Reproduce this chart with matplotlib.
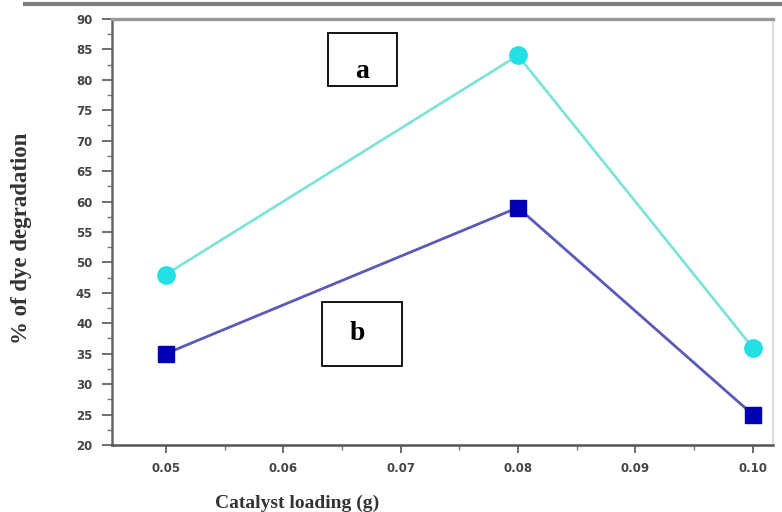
import matplotlib
matplotlib.use("Agg")
import matplotlib.pyplot as plt
from matplotlib.patches import Rectangle
from matplotlib.ticker import MultipleLocator

# catalyst loading (g) and % dye degradation for the two samples
loading = [0.05, 0.08, 0.10]
series_a = [48, 84, 36]
series_b = [35, 59, 25]
xtick_labels = ["0.05", "0.06", "0.07", "0.08", "0.09", "0.10"]

W, H = 782, 512
fig = plt.figure(figsize=(W / 100, H / 100), dpi=100)
ax = fig.add_axes([0.143, 0.131, 0.845, 0.832])

ax.plot(loading, series_a, color="#7fe3da", lw=2, marker="o", ms=12.5,
        mfc="#22e0e4", mec="#22e0e4", zorder=3)
ax.plot(loading, series_b, color="#5a5ab8", lw=2, marker="s", ms=11.5,
        mfc="#0000b4", mec="#0000b4", zorder=3)

ax.set_xlim(0.0454, 0.1017)
ax.set_ylim(20, 90)
ax.set_xticks([0.05, 0.06, 0.07, 0.08, 0.09, 0.10])
ax.set_xticklabels(xtick_labels)
ax.xaxis.set_minor_locator(MultipleLocator(0.005))
ax.yaxis.set_major_locator(MultipleLocator(5))
ax.yaxis.set_minor_locator(MultipleLocator(2.5))

ax.tick_params(which="major", direction="out", width=1.2, color="#555555",
               labelsize=8.5, labelcolor="#444444")
ax.tick_params(axis="y", which="major", length=7, pad=7)
ax.tick_params(axis="x", which="major", length=6, pad=6)
ax.tick_params(which="minor", direction="out", length=3.5, width=1,
               color="#777777")
for lab in ax.get_xticklabels() + ax.get_yticklabels():
    lab.set_fontweight("bold")

ax.spines["left"].set_color("#666666")
ax.spines["left"].set_linewidth(1.8)
ax.spines["bottom"].set_color("#555555")
ax.spines["bottom"].set_linewidth(1.8)
ax.spines["top"].set_color("#999999")
ax.spines["top"].set_linewidth(2.4)
ax.spines["right"].set_color("#dddddd")
ax.spines["right"].set_linewidth(1.5)

# axis titles sit off-centre, so place them in figure pixels
fig.text(297 / W, 1 - 503 / H, "Catalyst loading (g)", family="Liberation Serif",
         fontweight="bold", fontsize=14, color="#333333", ha="center", va="center")
fig.text(22 / W, 1 - 238 / H, "% of dye degradation", family="Liberation Serif",
         fontweight="bold", fontsize=16.5, color="#333333", ha="center",
         va="center", rotation=90)

# boxed panel letters
def panel(x0, y0, x1, y1, letter, tx, ty):
    fig.add_artist(Rectangle((x0 / W, 1 - y1 / H), (x1 - x0) / W, (y1 - y0) / H,
                             transform=fig.transFigure, fc="white", ec="black",
                             lw=1.3, zorder=4))
    fig.text(tx / W, 1 - ty / H, letter, family="Liberation Serif",
             fontweight="bold", fontsize=20, ha="center", va="center", zorder=5)

panel(328, 33, 397, 86, "a", 362, 72)
panel(322, 302, 402, 366, "b", 357, 334)

# rule across the top of the page
fig.add_artist(plt.Line2D([25 / W, 1.0], [1 - 4 / H, 1 - 4 / H], color="#808080",
                          lw=3, transform=fig.transFigure))

fig.savefig("out.png", dpi=100)
